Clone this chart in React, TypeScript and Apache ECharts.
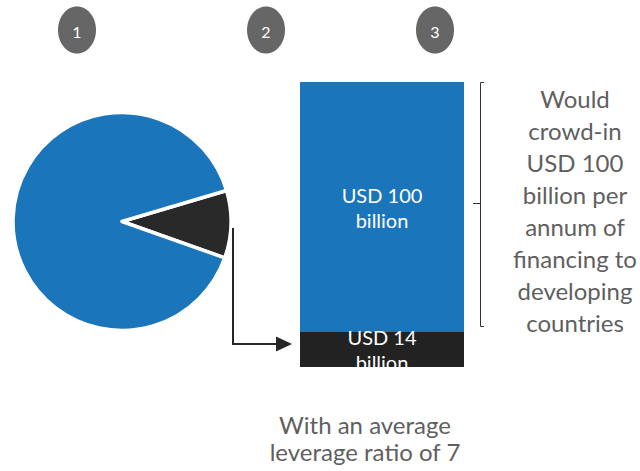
import React, { useEffect, useRef } from "react";
import * as echarts from "echarts";

const pieNames = ["Share", "Rest"];
const pieValues = [10, 90];
const barCategories = ["Fund"];
const barBottom = [14];
const barTop = [100];
const barLabels = ["USD 14\nbillion", "USD 100\nbillion"];
const stepLabels = ["1", "2", "3"];
const sideText = "Would\ncrowd-in\nUSD 100\nbillion per\nannum of\nfinancing to\ndeveloping\ncountries";
const footText = "With an average\nleverage ratio of 7";

const BLUE = "#1b75bb";
const DARK = "#262626";
const GREY = "#5f5f5f";
const FONT = "Lato, 'Open Sans', sans-serif";

export default function App() {
  const ref = useRef<HTMLDivElement>(null);
  useEffect(() => {
    if (!ref.current) return;
    const chart = echarts.init(ref.current, undefined, { renderer: "svg" });
    const circleX = [77, 266, 435];
    const graphics: any[] = [];
    stepLabels.forEach((s, i) => {
      graphics.push({
        type: "ellipse",
        shape: { cx: circleX[i], cy: 30, rx: 19, ry: 23.5 },
        style: { fill: "#666666" },
        z: 10,
      });
      graphics.push({
        type: "text",
        x: circleX[i],
        y: 31,
        style: {
          text: s,
          fill: "#ffffff",
          font: `16px ${FONT}`,
          align: "center",
          verticalAlign: "middle",
        },
        z: 11,
      });
    });
    // arrow from pie slice to bar
    graphics.push({
      type: "polyline",
      shape: { points: [[233, 228], [233, 344], [280, 344]] },
      style: { stroke: DARK, lineWidth: 2, fill: null },
      z: 10,
    });
    graphics.push({
      type: "polygon",
      shape: { points: [[276, 336.5], [292, 344], [276, 351.5]] },
      style: { fill: DARK },
      z: 10,
    });
    // bracket
    graphics.push({
      type: "polyline",
      shape: { points: [[484, 82.5], [480.5, 82.5], [480.5, 326.5], [484, 326.5]] },
      style: { stroke: "#333333", lineWidth: 1, fill: null },
      z: 10,
    });
    graphics.push({
      type: "line",
      shape: { x1: 473, y1: 203.5, x2: 480.5, y2: 203.5 },
      style: { stroke: "#333333", lineWidth: 1 },
      z: 10,
    });
    // clip overflow of bottom bar label
    graphics.push({
      type: "rect",
      shape: { x: 296, y: 367, width: 172, height: 14 },
      style: { fill: "#ffffff" },
      z: 100,
    });
    graphics.push({
      type: "text",
      x: 575,
      y: 210,
      style: {
        text: sideText,
        fill: GREY,
        font: `24px ${FONT}`,
        lineHeight: 32,
        align: "center",
        verticalAlign: "middle",
      },
      z: 10,
    });
    graphics.push({
      type: "text",
      x: 365,
      y: 438,
      style: {
        text: footText,
        fill: GREY,
        font: `24px ${FONT}`,
        lineHeight: 27,
        align: "center",
        verticalAlign: "middle",
      },
      z: 10,
    });

    chart.setOption({
      animation: false,
      grid: { left: 300, top: 82, width: 164, height: 285 },
      xAxis: { type: "category", data: barCategories, show: false },
      yAxis: { type: "value", min: 0, max: barBottom[0] + barTop[0], show: false },
      series: [
        {
          type: "pie",
          center: [122, 221.5],
          radius: 109,
          startAngle: 16.5,
          clockwise: true,
          label: { show: false },
          labelLine: { show: false },
          silent: true,
          data: [
            { name: pieNames[0], value: pieValues[0], itemStyle: { color: "#292929", borderColor: "#ffffff", borderWidth: 3.5 } },
            { name: pieNames[1], value: pieValues[1], itemStyle: { color: BLUE, borderColor: "#ffffff", borderWidth: 3.5 } },
          ],
        },
        {
          type: "bar",
          stack: "total",
          barWidth: "100%",
          data: barBottom,
          itemStyle: { color: "#222222" },
          label: {
            show: true,
            position: "inside",
            formatter: barLabels[0],
            color: "#ffffff",
            fontFamily: FONT,
            fontSize: 20,
            lineHeight: 25,
          },
        },
        {
          type: "bar",
          stack: "total",
          barWidth: "100%",
          data: barTop,
          itemStyle: { color: BLUE },
          label: {
            show: true,
            position: "inside",
            formatter: barLabels[1],
            color: "#ffffff",
            fontFamily: FONT,
            fontSize: 20,
            lineHeight: 25,
          },
        },
      ],
      graphic: graphics,
    });
    return () => chart.dispose();
  }, []);
  return (
    <div
      ref={ref}
      style={{ position: "fixed", left: 0, top: 0, width: 640, height: 471, background: "#fff" }}
    />
  );
}
